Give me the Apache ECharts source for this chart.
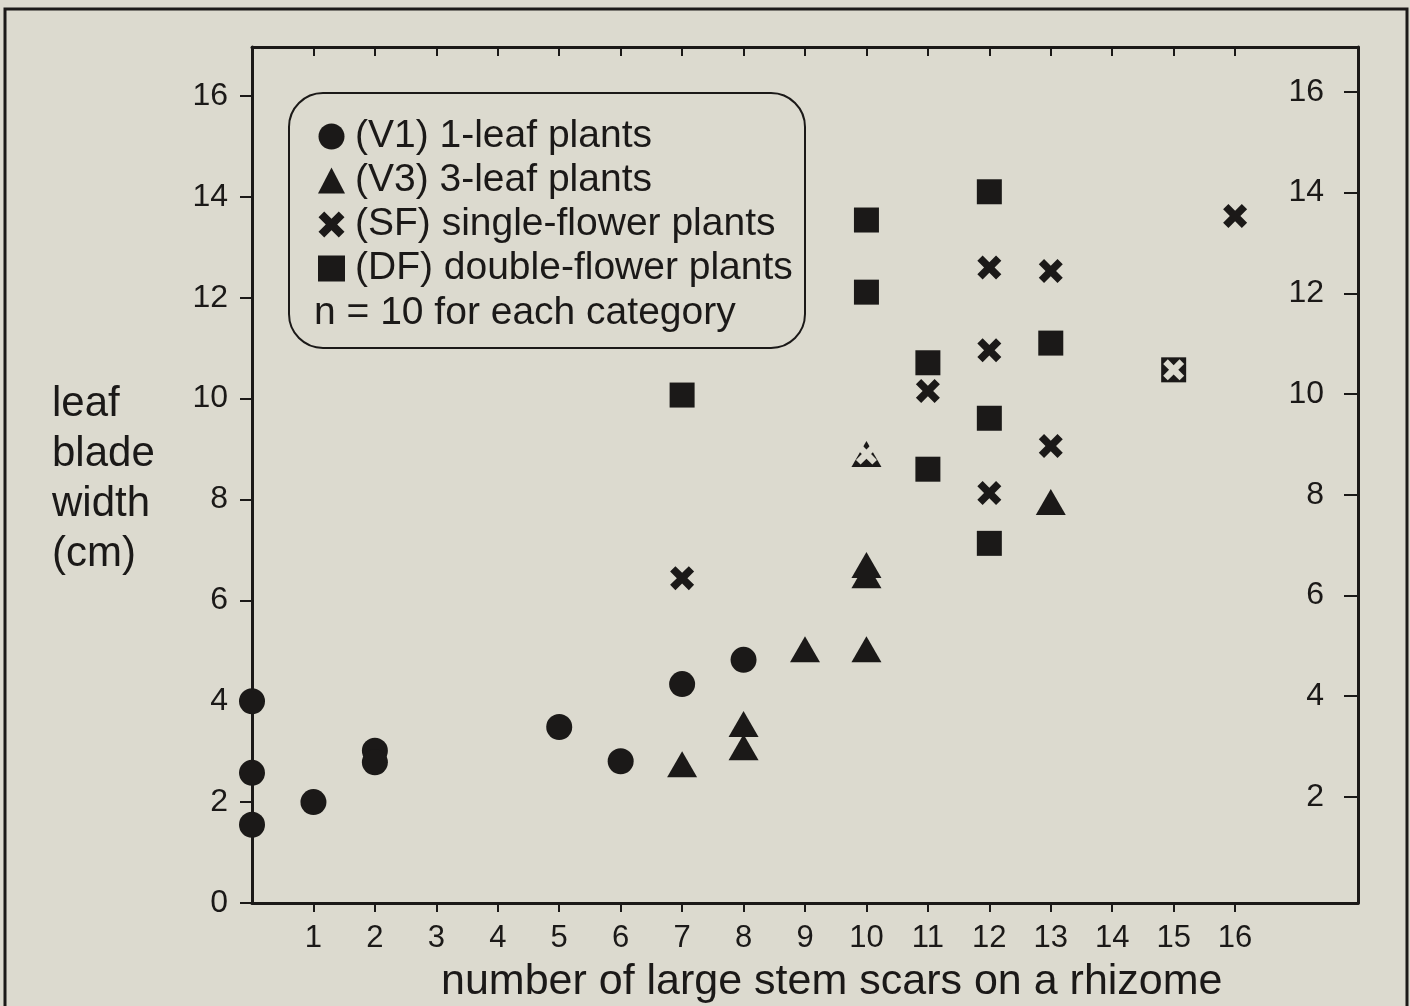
<!DOCTYPE html>
<html>
<head>
<meta charset="utf-8">
<script src="https://cdn.jsdelivr.net/npm/echarts@6/dist/echarts.min.js"></script>
<style>
html,body{margin:0;padding:0;background:#dcdacf;}
#c{width:1410px;height:1006px;}
</style>
</head>
<body>
<div id="c"></div>
<script>
// ---- data (x = number of large stem scars, y = leaf blade width cm) ----
const v1Points = [[0,4.0],[0,2.58],[0,1.55],[1,2.0],[2,3.02],[2,2.79],[5,3.49],[6,2.81],[7,4.34],[8,4.82]];
const v3Points = [[7,2.75],[8,3.55],[8,3.09],[9,5.03],[10,5.03],[10,6.5],[10,6.7],[10,8.9],[13,7.95]];
const sfPoints = [[7,6.44],[10,8.9],[11,10.15],[12,12.6],[12,10.96],[12,8.13],[13,12.53],[13,9.06],[15,10.57],[16,13.62]];
const dfPoints = [[7,10.07],[10,13.54],[10,12.11],[11,10.71],[11,8.6],[12,14.1],[12,9.61],[12,7.13],[13,11.1],[15,10.57]];
const seriesNames = ['(V1) 1-leaf plants','(V3) 3-leaf plants','(SF) single-flower plants','(DF) double-flower plants'];
const xTickValues = [1,2,3,4,5,6,7,8,9,10,11,12,13,14,15,16];
const yLeftTicks = [0,2,4,6,8,10,12,14,16];
const yRightTicks = [2,4,6,8,10,12,14,16];
const noteText = 'n = 10 for each category';
const yTitle = 'leaf\nblade\nwidth\n(cm)';
const xTitle = 'number of large stem scars on a rhizome';

const INK = '#1b1918';
const BG = '#dcdacf';
const FONT = 'Liberation Sans, Arial, Helvetica, sans-serif';
const XSYM = 'path://M0,2.2 L2.2,0 L5,2.8 L7.8,0 L10,2.2 L7.2,5 L10,7.8 L7.8,10 L5,7.2 L2.2,10 L0,7.8 L2.8,5 Z';

// SF points that sit on top of another marker are drawn knocked-out (light)
const others = v3Points.concat(dfPoints);
const sfData = sfPoints.map(p => {
  const hit = others.some(o => o[0] === p[0] && Math.abs(o[1] - p[1]) < 0.05);
  return hit ? {value: p, itemStyle: {color: BG}, symbolSize: 21} : {value: p};
});

const chart = echarts.init(document.getElementById('c'), null, {renderer: 'canvas'});
const axisLine = {show: true, onZero: false, lineStyle: {color: INK, width: 3}};
chart.setOption({
  backgroundColor: BG,
  animation: false,
  textStyle: {fontFamily: FONT, color: INK},
  grid: {left: 252, top: 47, right: 52, bottom: 103},
  title: [
    {text: yTitle, left: 47, top: 374, textStyle: {fontFamily: FONT, fontSize: 42, lineHeight: 50, fontWeight: 'normal', color: INK}},
    {text: xTitle, left: 436, top: 956, textStyle: {fontFamily: FONT, fontSize: 43, fontWeight: 'normal', color: INK}}
  ],
  legend: {
    data: seriesNames,
    orient: 'vertical',
    left: 313, top: 112,
    itemWidth: 27, itemHeight: 26, itemGap: 5,
    selectedMode: false,
    textStyle: {fontFamily: FONT, fontSize: 39, color: INK, padding: [0,0,0,5]}
  },
  xAxis: [
    {type: 'value', position: 'bottom', min: 0, max: 18, interval: 1,
     axisLine: axisLine, splitLine: {show: false},
     axisTick: {show: true, inside: false, length: 9, lineStyle: {color: INK, width: 2}, customValues: xTickValues},
     axisLabel: {show: true, margin: 20, fontSize: 31, color: INK, fontFamily: FONT, customValues: xTickValues}},
    {type: 'value', position: 'top', min: 0, max: 18, interval: 1,
     axisLine: axisLine, splitLine: {show: false},
     axisTick: {show: true, inside: true, length: 9, lineStyle: {color: INK, width: 2}, customValues: xTickValues},
     axisLabel: {show: false}}
  ],
  yAxis: [
    {type: 'value', position: 'left', min: 0, max: 16.97, interval: 2,
     axisLine: axisLine, splitLine: {show: false},
     axisTick: {show: true, inside: false, length: 12, lineStyle: {color: INK, width: 2}, customValues: yLeftTicks},
     axisLabel: {show: true, margin: 24, fontSize: 32, color: INK, fontFamily: FONT, customValues: yLeftTicks}},
    {type: 'value', position: 'right', min: -0.107, max: 16.89,
     axisLine: axisLine, splitLine: {show: false},
     axisTick: {show: true, inside: true, length: 14, lineStyle: {color: INK, width: 2}, customValues: yRightTicks},
     axisLabel: {show: true, inside: true, margin: 34, fontSize: 32, color: INK, fontFamily: FONT, customValues: yRightTicks}}
  ],
  graphic: [
    {type: 'rect', shape: {x: 5, y: 9, width: 1402, height: 1100}, style: {fill: 'none', stroke: INK, lineWidth: 3}, silent: true},
    {type: 'rect', shape: {x: 289, y: 93, width: 516, height: 255, r: 34}, style: {fill: 'none', stroke: INK, lineWidth: 2}, silent: true},
    {type: 'text', left: 314, top: 294, style: {text: noteText, font: '39px ' + FONT, fill: INK}, silent: true}
  ],
  series: [
    {name: seriesNames[0], type: 'scatter', xAxisIndex: 0, yAxisIndex: 0, symbol: 'circle', symbolSize: 26,
     itemStyle: {color: INK, opacity: 1}, data: v1Points, z: 3},
    {name: seriesNames[1], type: 'scatter', xAxisIndex: 0, yAxisIndex: 0, symbol: 'triangle', symbolSize: [30, 26],
     itemStyle: {color: INK, opacity: 1}, data: v3Points, z: 3},
    {name: seriesNames[3], type: 'scatter', xAxisIndex: 0, yAxisIndex: 0, symbol: 'rect', symbolSize: 25,
     itemStyle: {color: INK, opacity: 1}, data: dfPoints, z: 3},
    {name: seriesNames[2], type: 'scatter', xAxisIndex: 0, yAxisIndex: 0, symbol: XSYM, symbolSize: 24,
     itemStyle: {color: INK, opacity: 1}, data: sfData, z: 4}
  ]
});
</script>
</body>
</html>
